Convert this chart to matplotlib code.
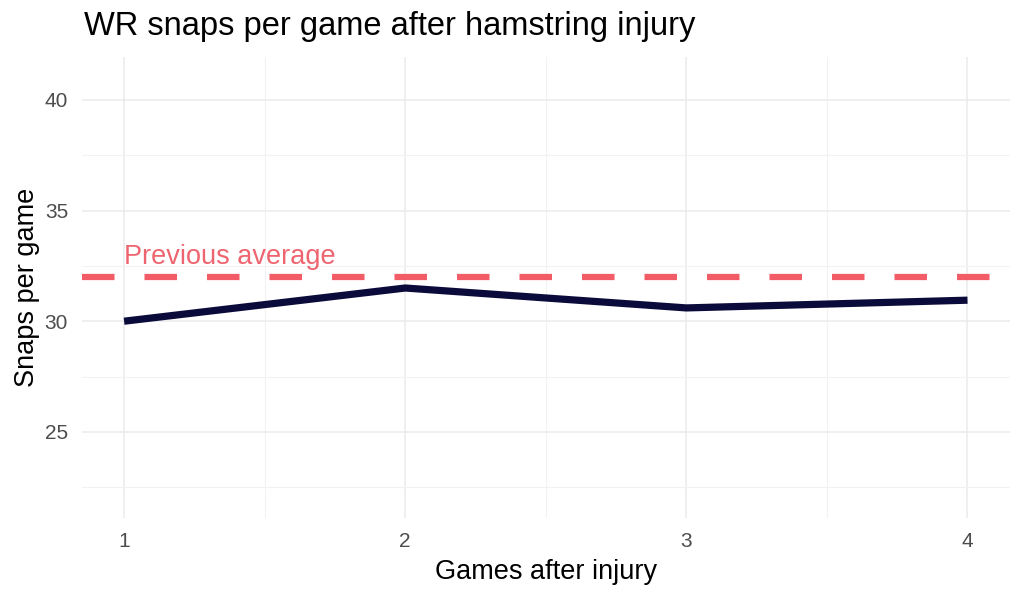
import numpy as np
import matplotlib
matplotlib.use('Agg')
import matplotlib.pyplot as plt
from matplotlib.ticker import MultipleLocator

# data
games = [1, 2, 3, 4]
snaps = [30.0, 31.5, 30.6, 30.95]
prev_avg = 32.0

plt.rcParams['font.family'] = ['Liberation Sans', 'DejaVu Sans']

fig = plt.figure(figsize=(10.24, 5.97), dpi=100)
ax = fig.add_axes([0.080, 0.132, 0.906, 0.773])

ax.axhline(prev_avg, color='#F25C66', lw=4.5, dashes=(5.2, 4.8), zorder=3)
ax.plot(games, snaps, color='#0B0B3B', lw=5.2, solid_capstyle='butt', zorder=4)
ax.text(1.0, prev_avg + 0.3, 'Previous average', color='#EE6570', fontsize=19.5,
        ha='left', va='bottom', zorder=5)

ax.set_xlim(0.85, 4.15)
ax.set_ylim(21.1, 41.95)
ax.xaxis.set_major_locator(MultipleLocator(1))
ax.xaxis.set_minor_locator(MultipleLocator(0.5))
ax.yaxis.set_major_locator(MultipleLocator(5))
ax.yaxis.set_minor_locator(MultipleLocator(2.5))
ax.set_yticks([25, 30, 35, 40])

ax.grid(which='major', color='#EBEBEB', lw=1.1)
ax.grid(which='minor', color='#F2F2F2', lw=0.8)
ax.set_axisbelow(True)
for s in ax.spines.values():
    s.set_visible(False)
ax.tick_params(which='both', length=0, labelsize=15, labelcolor='#4D4D4D', pad=10)

ax.set_xlabel('Games after injury', fontsize=19.5, color='black', labelpad=6)
ax.set_ylabel('Snaps per game', fontsize=19.5, color='black', labelpad=3.5)
fig.text(0.082, 0.93, 'WR snaps per game after hamstring injury', fontsize=23.5,
         ha='left', va='bottom', color='black')

fig.savefig('out.png', dpi=100, facecolor='white')
